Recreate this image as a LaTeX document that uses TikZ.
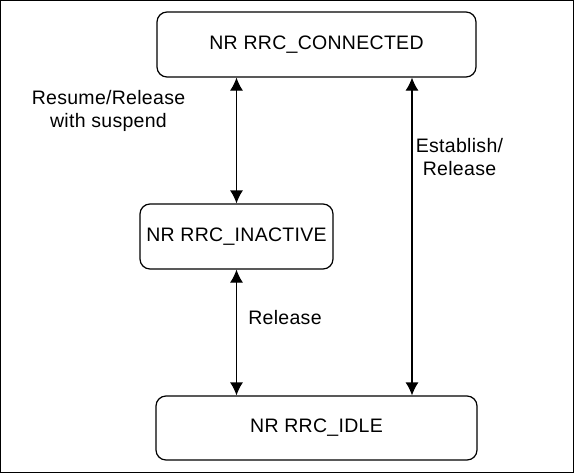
\documentclass[tikz,border=0pt]{standalone}
\usepackage{fontspec}
\setmainfont{Liberation Sans}[LetterSpace=1.5]
\usetikzlibrary{arrows.meta}
\tikzset{
  statebox/.style={draw, line width=1.2pt, rounded corners=10pt, inner sep=0pt, align=center,
    font=\fontsize{19.5}{22}\selectfont},
  lbl/.style={align=center, inner sep=0pt, font=\fontsize{19.5}{23}\selectfont},
  tipa/.tip={Latex[length=13pt,width=13pt]},
  conn/.style={line width=1.2pt, tipa-tipa}
}
\begin{document}
\begin{tikzpicture}[x=1pt,y=-1pt]
\useasboundingbox (0,0) rectangle (575,474);
\draw[line width=1.3pt] (0.7,0.7) rectangle (573.5,472.6);
\node[statebox, minimum width=319pt, minimum height=65pt] (conn) at (316.5,44.5) {NR RRC\_CONNECTED};
\node[statebox, minimum width=193pt, minimum height=65pt] (inact) at (236.5,236.5) {NR RRC\_INACTIVE};
\node[statebox, minimum width=321pt, minimum height=64pt] (idle) at (316.5,428) {NR RRC\_IDLE};
\coordinate (rx) at (412,0);
\draw[conn] (inact.north) -- (inact.north |- conn.south);
\draw[conn] (inact.south) -- (inact.south |- idle.north);
\draw[conn] (conn.south -| rx) -- (idle.north -| rx);
\node[lbl] (l1) at (108.5,111) {Resume/Release\\with suspend};
\node[lbl] (l2) at (459.5,157) {Establish/\\Release};
\node[lbl] (l3) at (285,318) {Release};
\end{tikzpicture}
\end{document}
